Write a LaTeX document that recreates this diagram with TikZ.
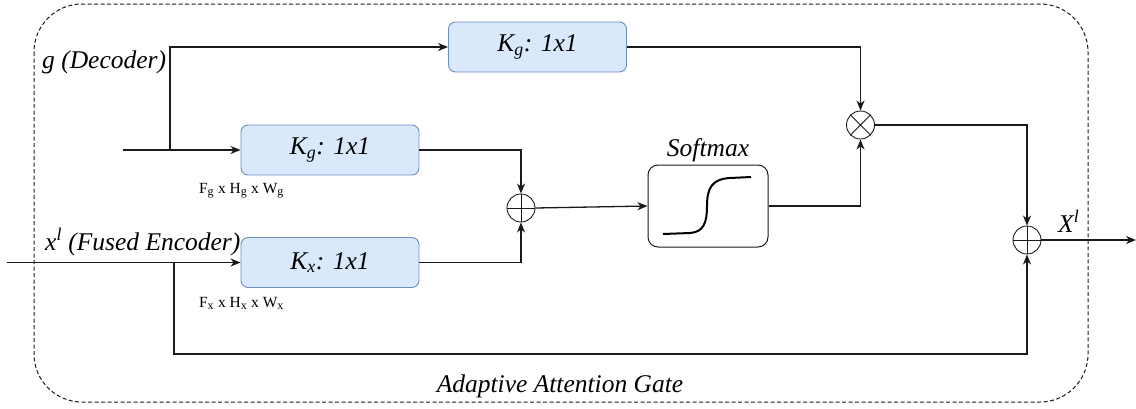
\documentclass[tikz,border=0pt]{standalone}
\usepackage{fontspec}
\setmainfont{Liberation Serif}
\newfontfamily\diagserif{Liberation Serif}
\usetikzlibrary{arrows.meta,calc}

\definecolor{convfill}{HTML}{DAE8FC}
\definecolor{convline}{HTML}{6C8EBF}
\definecolor{ink}{HTML}{1A1A1A}

\begin{document}
\begin{tikzpicture}[x=1pt,y=-1pt,
  conv/.style={draw=convline, fill=convfill, rounded corners=7pt,
    minimum width=178pt, minimum height=50pt, line width=0.9pt, inner sep=0pt,
    font=\diagserif\fontsize{25.5}{30}\selectfont\itshape},
  wire/.style={line width=1.3pt, draw=ink},
  flow/.style={wire, -{Stealth[length=10pt,width=8pt,inset=3pt]}},
  opnode/.style={circle, draw=ink, line width=0.9pt, minimum size=28pt, inner sep=0pt},
  lbl/.style={font=\diagserif\fontsize{25.5}{30}\selectfont\itshape, inner sep=0pt},
  dims/.style={font=\diagserif\fontsize{15.5}{18}\selectfont, inner sep=0pt},
  frame/.style={draw=ink, line width=1pt, dash pattern=on 4pt off 2.5pt, rounded corners=48pt}
]
\useasboundingbox (0,0) rectangle (1136,408);

% outer gate boundary
\draw[frame] (34,4) rectangle (1088,402);
\node[lbl, anchor=base] (gate) at (560,392) {Adaptive Attention Gate};

% convolution blocks
\node[conv] (kgtop) at (537.5,47) {K\textsubscript{g}: 1x1};
\node[conv] (kgmid) at (330,150) {K\textsubscript{g}: 1x1};
\node[conv] (kx)    at (330,262.5) {K\textsubscript{x}: 1x1};

% softmax block with sigmoid glyph
\node[draw=ink, line width=1pt, rounded corners=10pt, minimum width=120pt,
      minimum height=82pt, inner sep=0pt] (soft) at (708,206) {};
\draw[line width=2pt, draw=black] (663,234) -- (690,233)
  .. controls (704,232) and (707,222) .. (707,206)
  .. controls (707,188) and (712,179) .. (730,178) -- (751,177);
\node[lbl, anchor=base] (softlbl) at (708,156) {Softmax};

% element-wise operators
\node[opnode] (add1) at (521,208) {};
\draw[ink, line width=0.9pt] (add1.north) -- (add1.south) (add1.west) -- (add1.east);
\node[opnode] (mul) at (860.5,125) {};
\draw[ink, line width=0.9pt] (mul.north east) -- (mul.south west) (mul.north west) -- (mul.south east);
\node[opnode] (add2) at (1027,240) {};
\draw[ink, line width=0.9pt] (add2.north) -- (add2.south) (add2.west) -- (add2.east);

% input labels
\node[lbl, anchor=base west] (glbl) at (42,68) {g (Decoder)};
\node[lbl, anchor=base west] (xlbl) at (45,250) {x\textsuperscript{l} (Fused Encoder)};
\node[dims, anchor=base] (gdims) at (241.5,193) {F\textsubscript{\large g} x H\textsubscript{\large g} x W\textsubscript{\large g}};
\node[dims, anchor=base] (xdims) at (241.5,307) {F\textsubscript{\large x} x H\textsubscript{\large x} x W\textsubscript{\large x}};
\node[lbl, anchor=base west] (outlbl) at (1058,232) {X\textsuperscript{l}};

% connector end points
\coordinate (gin) at (123,150);
\coordinate (gsplit) at (170,150);
\coordinate (xin) at (7,262.5);
\coordinate (xsplit) at (174,262.5);
\coordinate (xlow) at (174,354);
\coordinate (out) at (1136,240);

% gating signal path
\draw[flow] (gin) -- (kgmid.west);
\draw[flow] (gsplit) |- (kgtop.west);
\draw[flow] (kgtop.east) -| (mul.north);

% encoder path
\draw[flow] (xin) -- (kx.west);
\draw[flow] (xsplit) -- (xlow) -| (add2.south);

% attention coefficients
\draw[flow] (kgmid.east) -| (add1.north);
\draw[flow] (kx.east) -| (add1.south);
\draw[flow] (add1.east) -- (soft.west);
\draw[flow] (soft.east) -| (mul.south);
\draw[flow] (mul.east) -| (add2.north);
\draw[flow] (add2.east) -- (out);
\end{tikzpicture}
\end{document}
